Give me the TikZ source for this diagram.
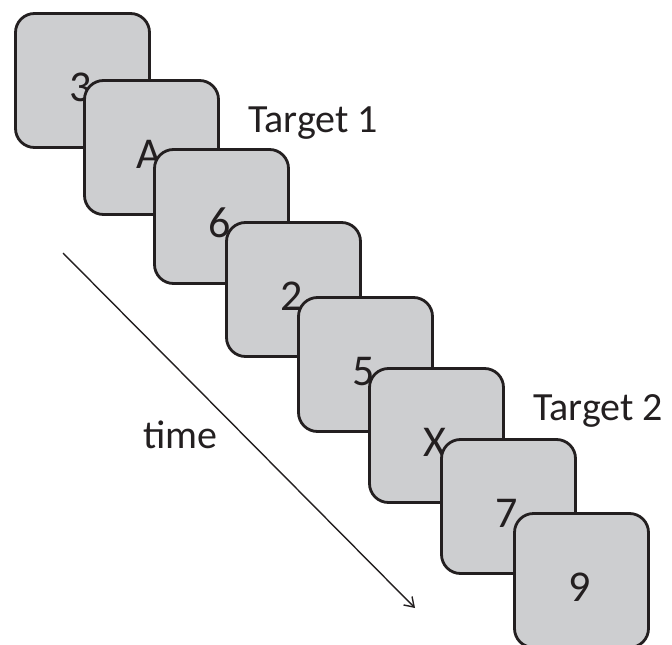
\documentclass[tikz,border=0pt]{standalone}
\usepackage{fontspec}
\setmainfont{Carlito}
\usetikzlibrary{arrows.meta}
\definecolor{cardfill}{HTML}{CDCED0}
\definecolor{ink}{HTML}{231F20}
\begin{document}
\begin{tikzpicture}[x=1pt,y=-1pt,
  card/.style={draw=ink, fill=cardfill, line width=2.8pt, rounded corners=19pt,
    minimum width=134pt, minimum height=134pt, inner sep=0pt},
  symb/.style={anchor=base, text=ink, inner sep=0pt, font=\fontsize{44}{50}\selectfont},
  lbl/.style={anchor=base west, text=ink, inner sep=0pt, font=\fontsize{40}{46}\selectfont}]
\useasboundingbox (0,0) rectangle (672,645);

% stimulus stream, each card laid over the previous one
\foreach \i/\cx/\cy/\s in {1/82.5/80.5/3, 2/151.5/147.5/A, 3/221.5/216.5/6, 4/293.5/289.5/2,
                          5/365.5/364.5/5, 6/436.5/435.5/X, 7/508.5/506.5/7, 8/581.5/580.5/9}{
  \node[card] (c\i) at (\cx,\cy) {};
  \node[symb] (s\i) at ([xshift=-2pt,yshift=-21pt]c\i.center) {\s};
}

% labels
\node[lbl] (t1) at (248,132) {Target 1};
\node[lbl] (t2) at (533,420) {Target 2};
\node[lbl] (tm) at (143,448) {time};

% time axis
\coordinate (a0) at (63,253);
\coordinate (a1) at (415,608);
\draw[ink, line width=1.4pt, -{Straight Barb[length=9pt,width=12pt,line width=1.4pt]}] (a0) -- (a1);
\end{tikzpicture}
\end{document}
